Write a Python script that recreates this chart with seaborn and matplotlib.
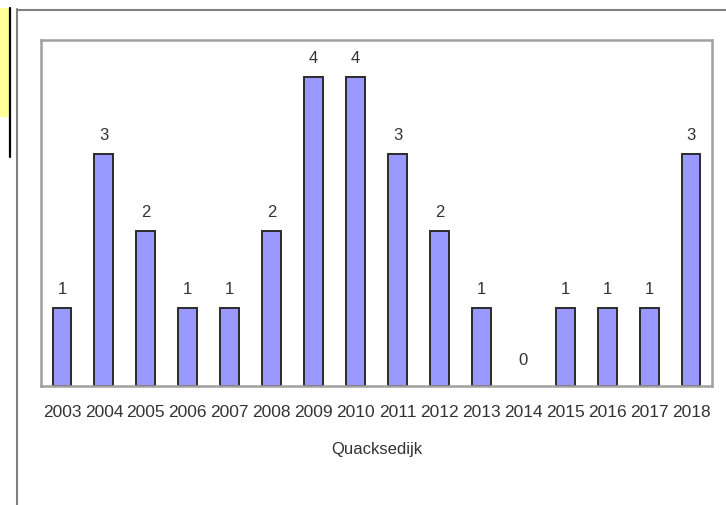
import matplotlib
matplotlib.use("Agg")
import matplotlib.pyplot as plt
import seaborn as sns
import pandas as pd
from matplotlib.lines import Line2D
from matplotlib.patches import Rectangle

years = ["2003", "2004", "2005", "2006", "2007", "2008", "2009", "2010",
         "2011", "2012", "2013", "2014", "2015", "2016", "2017", "2018"]
counts = [1, 3, 2, 1, 1, 2, 4, 4, 3, 2, 1, 0, 1, 1, 1, 3]
xlabel = "Quacksedijk"

df = pd.DataFrame({"year": years, "count": counts})

sns.set_theme(style="white")
plt.rcParams['font.family'] = ['Liberation Sans', 'DejaVu Sans']

W, H = 726, 506
fig = plt.figure(figsize=(W / 100, H / 100), dpi=100)
ax = fig.add_axes([41 / W, 1 - 386.5 / H, (712 - 41) / W, (386.5 - 41) / H])

sns.barplot(data=df, x="year", y="count", ax=ax, color="#9999FF",
            saturation=1, width=0.45, edgecolor="#2a2a2a", linewidth=1.4)
for p in ax.patches:
    if p.get_height() == 0:
        p.set_linewidth(0)

ax.set_ylim(0, 4.48)
ax.set_xlim(-0.5, len(years) - 0.5)
ax.set_yticks([])
ax.set_ylabel("")
ax.set_xlabel(xlabel, fontsize=12, color="#333333", labelpad=16)
ax.tick_params(axis="x", length=0, labelsize=12.5, colors="#333333", pad=13)
for s in ax.spines.values():
    s.set_color("#a0a0a0")
    s.set_linewidth(1.8)
    s.set_visible(True)

for i, v in enumerate(counts):
    off = 13 if v == 0 else 9
    ax.annotate(str(v), (i, v), xytext=(0, off), textcoords="offset points",
                ha="center", va="bottom", fontsize=12, color="#333333")

# decorations outside the chart
def fx(px):
    return px / W

def fy(py):
    return 1 - py / H

fig.add_artist(Rectangle((0, fy(118)), fx(9), fy(9) - fy(118),
                         transform=fig.transFigure, facecolor="#FFFF99",
                         edgecolor="none"))
fig.add_artist(Line2D([fx(10), fx(10)], [fy(9), fy(158)],
                      transform=fig.transFigure, color="black", linewidth=1.6))
fig.add_artist(Line2D([fx(17), fx(17)], [fy(10), 0],
                      transform=fig.transFigure, color="#808080", linewidth=1.5))
fig.add_artist(Line2D([fx(17), 1], [fy(10.5), fy(10.5)],
                      transform=fig.transFigure, color="#808080", linewidth=1.5))

fig.savefig("out.png", dpi=100, facecolor="white")
